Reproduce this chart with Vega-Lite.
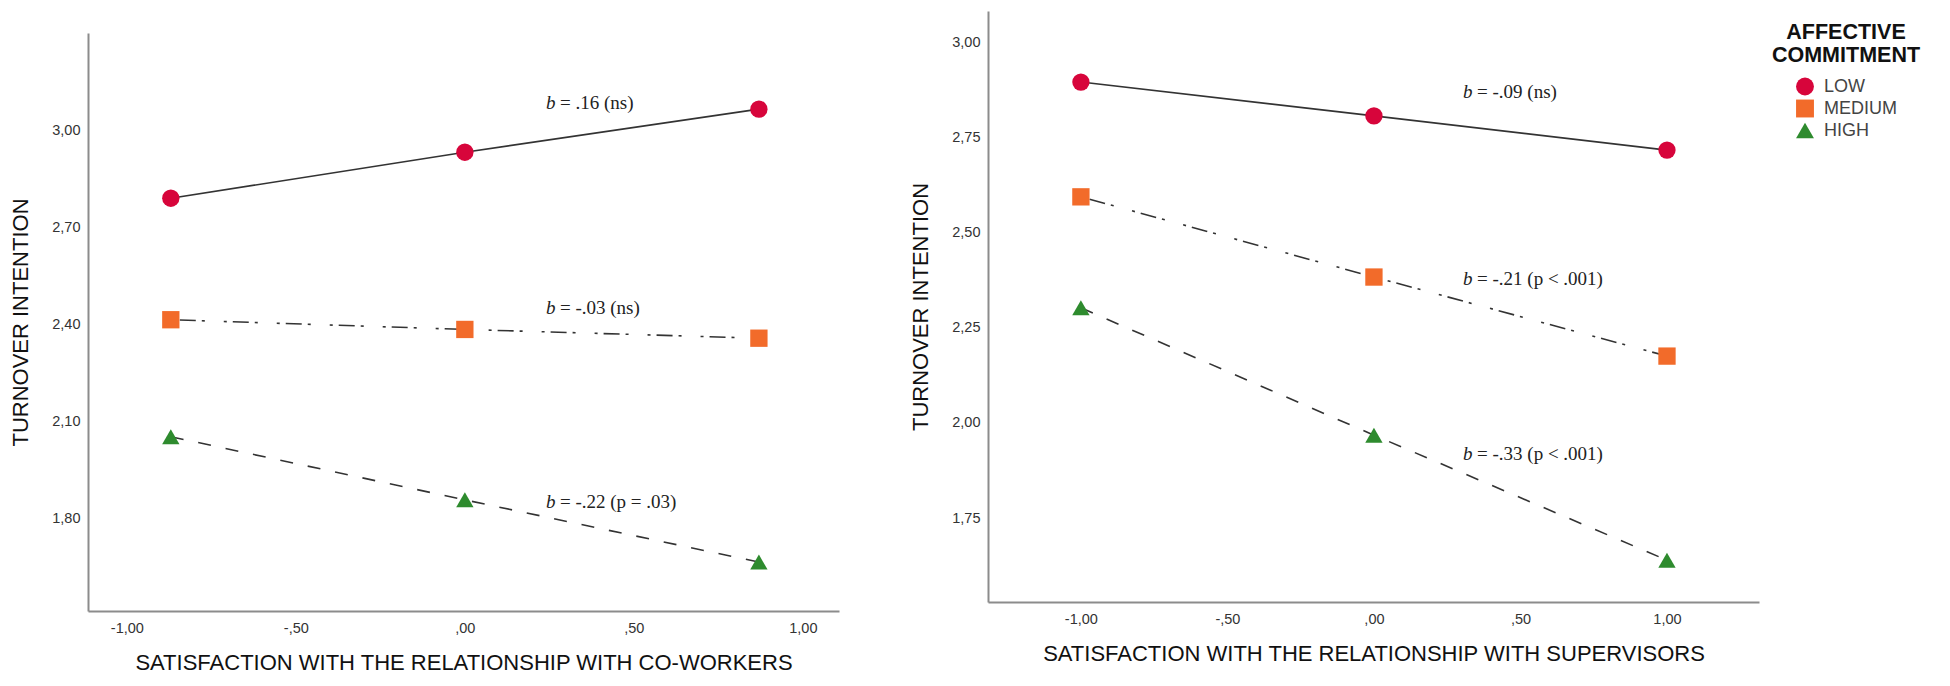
{
  "$schema": "https://vega.github.io/schema/vega-lite/v6.json",
  "background": "white",
  "padding": {"left": 9, "top": 11, "right": 5, "bottom": 5},
  "config": {
    "view": {"stroke": null},
    "font": "Liberation Sans",
    "axis": {
      "domainColor": "#8c8c8c", "domainWidth": 2, "ticks": false, "grid": false,
      "labelFont": "Liberation Sans", "labelFontSize": 14.5, "labelColor": "#333",
      "titleFont": "Liberation Sans", "titleFontSize": 22, "titleFontWeight": "normal", "titleColor": "#111",
      "labelPadding": 8
    },
    "axisX": {"labelPadding": 10, "titlePadding": 18},
    "axisY": {"titlePadding": 19},
    "legend": {
      "offset": 2, "padding": 11,
      "titleFont": "Liberation Sans", "titleFontSize": 21.5, "titleFontWeight": "bold", "titleColor": "#111",
      "titleAlign": "center", "titleAnchor": "middle", "titleLineHeight": 23, "titlePadding": 11,
      "labelFont": "Liberation Sans", "labelFontSize": 18, "labelColor": "#444",
      "symbolSize": 320, "rowPadding": 4, "labelOffset": 10, "symbolStrokeWidth": 0
    }
  },
  "datasets": {
    "coworkers": [
      {"level": "LOW", "x": -0.87, "y": 2.79},
      {"level": "LOW", "x": 0, "y": 2.932},
      {"level": "LOW", "x": 0.87, "y": 3.065},
      {"level": "MEDIUM", "x": -0.87, "y": 2.415},
      {"level": "MEDIUM", "x": 0, "y": 2.385},
      {"level": "MEDIUM", "x": 0.87, "y": 2.358},
      {"level": "HIGH", "x": -0.87, "y": 2.054},
      {"level": "HIGH", "x": 0, "y": 1.859},
      {"level": "HIGH", "x": 0.87, "y": 1.667}
    ],
    "supervisors": [
      {"level": "LOW", "x": -1, "y": 2.897},
      {"level": "LOW", "x": 0, "y": 2.808},
      {"level": "LOW", "x": 1, "y": 2.718},
      {"level": "MEDIUM", "x": -1, "y": 2.595},
      {"level": "MEDIUM", "x": 0, "y": 2.384},
      {"level": "MEDIUM", "x": 1, "y": 2.176},
      {"level": "HIGH", "x": -1, "y": 2.303},
      {"level": "HIGH", "x": 0, "y": 1.968},
      {"level": "HIGH", "x": 1, "y": 1.639}
    ],
    "labels_cw": [
      {"x": 0.24, "y": 3.083, "rest": "= .16 (ns)"},
      {"x": 0.24, "y": 2.451, "rest": "= -.03 (ns)"},
      {"x": 0.24, "y": 1.852, "rest": "= -.22 (p = .03)"}
    ],
    "labels_sup": [
      {"x": 0.304, "y": 2.871, "rest": "= -.09 (ns)"},
      {"x": 0.304, "y": 2.379, "rest": "= -.21 (p < .001)"},
      {"x": 0.304, "y": 1.918, "rest": "= -.33 (p < .001)"}
    ]
  },
  "spacing": 70,
  "hconcat": [
    {
      "spacing": 0,
      "vconcat": [
        {
          "width": 751,
          "height": 22,
          "data": {"values": []},
          "mark": {"type": "text"},
          "encoding": {}
        },
        {
          "width": 751,
          "height": 578,
          "encoding": {
            "x": {"field": "x", "type": "quantitative",
              "scale": {"domain": [-1.115, 1.107], "nice": false, "zero": false},
              "axis": {"values": [-1, -0.5, 0, 0.5, 1],
                "labelExpr": "(datum.value < 0 ? '-' : '') + replace(replace(format(abs(datum.value), '.2f'), '.', ','), '0,', ',')",
                "title": "SATISFACTION WITH THE RELATIONSHIP WITH CO-WORKERS"}},
            "y": {"field": "y", "type": "quantitative",
              "scale": {"domain": [1.516, 3.30], "nice": false, "zero": false},
              "axis": {"values": [1.8, 2.1, 2.4, 2.7, 3.0],
                "labelExpr": "(datum.value < 0 ? '-' : '') + replace(replace(format(abs(datum.value), '.2f'), '.', ','), '0,', ',')",
                "title": "TURNOVER INTENTION"}}
          },
          "layer": [
            {
              "data": {"name": "coworkers"},
              "transform": [{"filter": "datum.level == 'LOW'"}],
              "mark": {"type": "line", "color": "#333", "strokeWidth": 1.6}
            },
            {
              "data": {"name": "coworkers"},
              "transform": [{"filter": "datum.level == 'MEDIUM'"}],
              "mark": {"type": "line", "color": "#333", "strokeWidth": 1.6, "strokeDash": [3, 6, 16, 6, 3, 19]}
            },
            {
              "data": {"name": "coworkers"},
              "transform": [{"filter": "datum.level == 'HIGH'"}],
              "mark": {"type": "line", "color": "#333", "strokeWidth": 1.6, "strokeDash": [13, 15]}
            },
            {
              "data": {"name": "coworkers"},
              "mark": {"type": "point", "filled": true, "opacity": 1, "size": 300},
              "encoding": {
                "color": {"field": "level", "type": "nominal",
                  "scale": {"domain": ["LOW", "MEDIUM", "HIGH"], "range": ["#d7053b", "#f26b2a", "#2e8b2e"]},
                  "legend": {"title": ["AFFECTIVE", "COMMITMENT"]}},
                "shape": {"field": "level", "type": "nominal",
                  "scale": {"domain": ["LOW", "MEDIUM", "HIGH"], "range": ["circle", "square", "triangle-up"]},
                  "legend": {"title": ["AFFECTIVE", "COMMITMENT"]}}
              }
            },
            {
              "data": {"name": "labels_cw"},
              "mark": {"type": "text", "font": "Liberation Serif", "fontStyle": "italic", "fontSize": 19, "align": "left", "baseline": "middle", "color": "#222"},
              "encoding": {"text": {"value": "b"}}
            },
            {
              "data": {"name": "labels_cw"},
              "mark": {"type": "text", "font": "Liberation Serif", "fontSize": 19, "align": "left", "baseline": "middle", "color": "#222", "dx": 14},
              "encoding": {"text": {"field": "rest", "type": "nominal"}}
            }
          ]
        }
      ]
    },
    {
      "width": 771,
      "height": 591,
      "encoding": {
        "x": {"field": "x", "type": "quantitative",
          "scale": {"domain": [-1.317, 1.314], "nice": false, "zero": false},
          "axis": {"values": [-1, -0.5, 0, 0.5, 1],
            "labelExpr": "(datum.value < 0 ? '-' : '') + replace(replace(format(abs(datum.value), '.2f'), '.', ','), '0,', ',')",
            "title": "SATISFACTION WITH THE RELATIONSHIP WITH SUPERVISORS"}},
        "y": {"field": "y", "type": "quantitative",
          "scale": {"domain": [1.529, 3.084], "nice": false, "zero": false},
          "axis": {"values": [1.75, 2.0, 2.25, 2.5, 2.75, 3.0],
            "labelExpr": "(datum.value < 0 ? '-' : '') + replace(replace(format(abs(datum.value), '.2f'), '.', ','), '0,', ',')",
            "title": "TURNOVER INTENTION"}}
      },
      "layer": [
        {
          "data": {"name": "supervisors"},
          "transform": [{"filter": "datum.level == 'LOW'"}],
          "mark": {"type": "line", "color": "#333", "strokeWidth": 1.6}
        },
        {
          "data": {"name": "supervisors"},
          "transform": [{"filter": "datum.level == 'MEDIUM'"}],
          "mark": {"type": "line", "color": "#333", "strokeWidth": 1.6, "strokeDash": [3, 6, 16, 6, 3, 19]}
        },
        {
          "data": {"name": "supervisors"},
          "transform": [{"filter": "datum.level == 'HIGH'"}],
          "mark": {"type": "line", "color": "#333", "strokeWidth": 1.6, "strokeDash": [13, 15]}
        },
        {
          "data": {"name": "supervisors"},
          "mark": {"type": "point", "filled": true, "opacity": 1, "size": 300},
          "encoding": {
            "color": {"field": "level", "type": "nominal",
              "scale": {"domain": ["LOW", "MEDIUM", "HIGH"], "range": ["#d7053b", "#f26b2a", "#2e8b2e"]},
              "legend": {"title": ["AFFECTIVE", "COMMITMENT"]}},
            "shape": {"field": "level", "type": "nominal",
              "scale": {"domain": ["LOW", "MEDIUM", "HIGH"], "range": ["circle", "square", "triangle-up"]},
              "legend": {"title": ["AFFECTIVE", "COMMITMENT"]}}
          }
        },
        {
          "data": {"name": "labels_sup"},
          "mark": {"type": "text", "font": "Liberation Serif", "fontStyle": "italic", "fontSize": 19, "align": "left", "baseline": "middle", "color": "#222"},
          "encoding": {"text": {"value": "b"}}
        },
        {
          "data": {"name": "labels_sup"},
          "mark": {"type": "text", "font": "Liberation Serif", "fontSize": 19, "align": "left", "baseline": "middle", "color": "#222", "dx": 14},
          "encoding": {"text": {"field": "rest", "type": "nominal"}}
        }
      ]
    }
  ]
}
